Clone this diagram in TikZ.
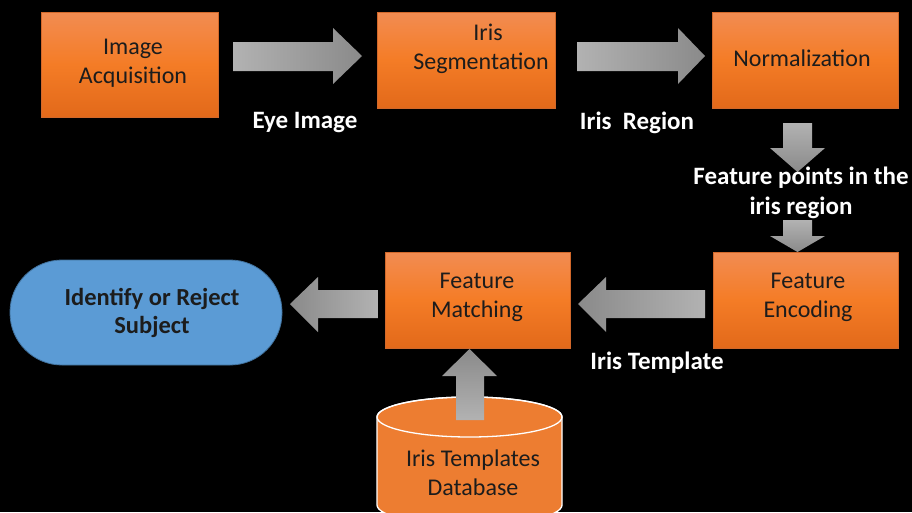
\documentclass[tikz,border=0pt]{standalone}
\usepackage{fontspec}
\setmainfont{Carlito}
\usetikzlibrary{shapes.misc}
\definecolor{boxtop}{HTML}{F28C52}
\definecolor{boxmid}{HTML}{F47C26}
\definecolor{boxbot}{HTML}{E2691A}
\definecolor{boxedge}{HTML}{D2682A}
\definecolor{cylfill}{HTML}{ED7D31}
\definecolor{termfill}{HTML}{5B9BD5}
\definecolor{termedge}{HTML}{41719C}
\definecolor{arrlight}{HTML}{B2B2B2}
\definecolor{arrdark}{HTML}{8A8A8A}
\definecolor{txtdark}{HTML}{1C1C1C}
\tikzset{
  procbox/.style={draw=boxedge, line width=0.8pt, top color=boxtop, bottom color=boxbot, middle color=boxmid,
    inner sep=0pt, align=center, text=txtdark, font=\fontsize{24}{29}\selectfont},
  boxtext/.style={align=center, text=txtdark, inner sep=0pt, font=\fontsize{24}{29}\selectfont},
  flowlabel/.style={align=center, text=white, inner sep=0pt, font=\bfseries\fontsize{25}{30}\selectfont},
  termbox/.style={draw=termedge, line width=0.8pt, fill=termfill, rounded corners=52pt,
    inner sep=0pt, align=center, text=txtdark},
  blockarrow/.style={draw=none}
}
\begin{document}
\begin{tikzpicture}[x=1pt,y=1pt]
\fill[black] (0,0) rectangle (912,-512);
\useasboundingbox (0,0) rectangle (912,-512);

% process boxes
\node[procbox, minimum width=177pt, minimum height=105pt] (acq) at (129.5,-64.5) {};
\node[boxtext] (acqtxt) at (133,-63) {Image\\Acquisition};
\node[procbox, minimum width=178pt, minimum height=96pt] (seg) at (466,-60) {};
\node[boxtext] (segtxt) at (481,-49) {\hspace*{14pt}Iris\\Segmentation};
\node[procbox, minimum width=186pt, minimum height=96pt] (norm) at (805,-60) {};
\node[boxtext] (normtxt) at (802,-58) {Normalization};
\node[procbox, minimum width=185pt, minimum height=96pt] (enc) at (805.5,-300) {};
\node[boxtext] (enctxt) at (808,-297) {Feature\\Encoding};
\node[procbox, minimum width=185pt, minimum height=96pt] (match) at (477.5,-300) {};
\node[boxtext] (matchtxt) at (477,-297) {Feature\\Matching};

% terminal
\node[termbox, minimum width=272pt, minimum height=105pt] (subj) at (146,-312.5) {};
\node[align=center, text=txtdark, inner sep=0pt, font=\bfseries\fontsize{24.5}{28}\selectfont] (subjtxt) at (152,-313) {Identify or Reject\\Subject};

% database cylinder
\path[fill=cylfill, draw=white, line width=1.3pt]
  (377,-417) -- (377,-505) arc[start angle=180, end angle=360, x radius=92.5, y radius=20]
  -- (562,-417) arc[start angle=0, end angle=180, x radius=92.5, y radius=20] -- cycle;
\draw[white, line width=1.3pt] (469.5,-417) ellipse[x radius=92.5, y radius=20];
\node[boxtext] (db) at (473,-473) {Iris Templates\\Database};

% block arrows
\shade[blockarrow, left color=arrlight, right color=arrdark]
  (233,-42) -- (333,-42) -- (333,-28) -- (362,-56) -- (333,-84) -- (333,-71) -- (233,-71) -- cycle;
\shade[blockarrow, left color=arrlight, right color=arrdark]
  (577,-42) -- (678,-42) -- (678,-28) -- (705,-56) -- (678,-84) -- (678,-71) -- (577,-71) -- cycle;
\shade[blockarrow, top color=arrlight, bottom color=arrdark]
  (783,-123) -- (812,-123) -- (812,-148) -- (825,-148) -- (797.5,-172) -- (770,-148) -- (783,-148) -- cycle;
\shade[blockarrow, top color=arrlight, bottom color=arrdark]
  (783,-220) -- (812,-220) -- (812,-236) -- (825,-236) -- (797.5,-252) -- (770,-236) -- (783,-236) -- cycle;
\shade[blockarrow, right color=arrlight, left color=arrdark]
  (705,-290) -- (606,-290) -- (606,-277) -- (578,-304) -- (606,-332) -- (606,-318) -- (705,-318) -- cycle;
\shade[blockarrow, right color=arrlight, left color=arrdark]
  (378,-290) -- (318,-290) -- (318,-277) -- (290,-304) -- (318,-332) -- (318,-318) -- (378,-318) -- cycle;
\shade[blockarrow, bottom color=arrlight, top color=arrdark]
  (456,-420) -- (456,-376) -- (442,-376) -- (469.5,-349) -- (497,-376) -- (484,-376) -- (484,-420) -- cycle;

% flow labels
\node[flowlabel] (l1) at (305,-123) {Eye Image};
\node[flowlabel] (l2) at (637,-123) {Iris~~Region};
\node[flowlabel] (l3) at (801,-193) {Feature points in the\\iris region};
\node[flowlabel] (l4) at (657,-363) {Iris Template};
\end{tikzpicture}
\end{document}
